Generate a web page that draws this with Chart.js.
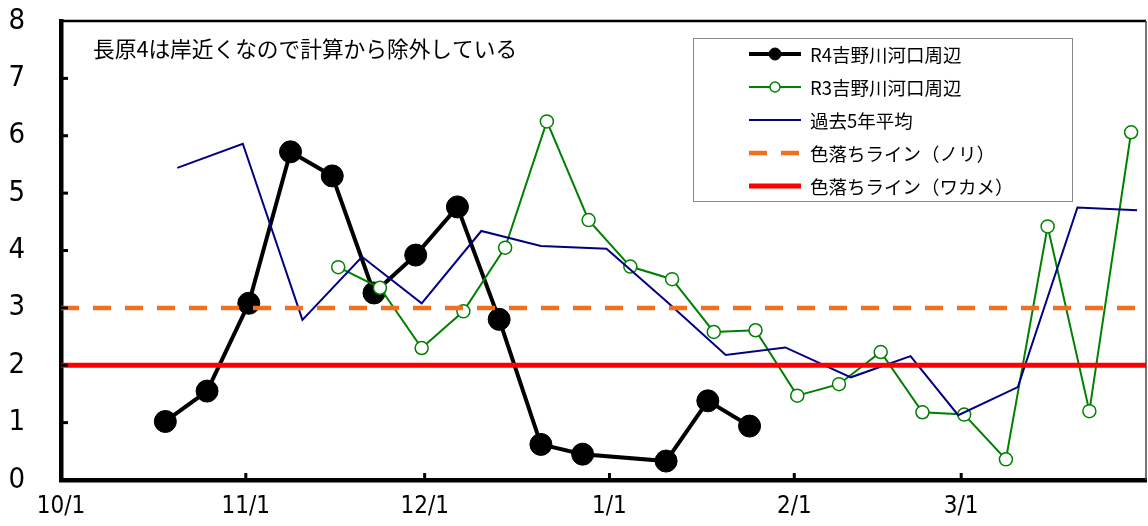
<!DOCTYPE html>
<html>
<head>
<meta charset="utf-8">
<script src="https://cdn.jsdelivr.net/npm/chart.js@4.4.0/dist/chart.umd.min.js"></script>
<style>
  html, body { margin: 0; padding: 0; background: #fff; overflow: hidden; }
  #wrap { width: 1148px; height: 526px; }
  canvas { display: block; }
</style>
</head>
<body>
<div id="wrap"><canvas id="chart" width="1148" height="526"></canvas></div>
<script>
// x axis: days counted from 10/1, month ticks
const monthLabels = ['10/1', '11/1', '12/1', '1/1', '2/1', '3/1'];
const xMin = 0;
const xMax = 182;

const r4Dates = ['10/18', '10/25', '11/1', '11/8', '11/15', '11/22', '11/29', '12/6', '12/13', '12/20', '12/27', '1/10', '1/17', '1/24'];
const r4Values = [1.02, 1.55, 3.08, 5.72, 5.30, 3.26, 3.92, 4.76, 2.80, 0.62, 0.45, 0.33, 1.38, 0.94];

const r3Dates = ['11/16', '11/23', '11/30', '12/7', '12/14', '12/21', '12/28', '1/4', '1/11', '1/18', '1/25', '2/1', '2/8', '2/15', '2/22', '3/1', '3/8', '3/15', '3/22', '3/29'];
const r3Values = [3.71, 3.35, 2.30, 2.94, 4.05, 6.25, 4.53, 3.72, 3.50, 2.58, 2.61, 1.47, 1.67, 2.23, 1.18, 1.14, 0.36, 4.42, 1.20, 6.06];

const avgDates = ['10/20', '10/31', '11/10', '11/20', '11/30', '12/10', '12/20', '12/31', '1/10', '1/20', '1/30', '2/10', '2/20', '2/28', '3/10', '3/20', '3/30'];
const avgValues = [5.44, 5.86, 2.79, 3.89, 3.08, 4.34, 4.08, 4.03, 3.12, 2.18, 2.31, 1.79, 2.16, 1.13, 1.62, 4.75, 4.70];

const noriLine = [3, 3];
const wakameLine = [2, 2];

const note = '長原4は岸近くなので計算から除外している';

const numFont = "'DejaVu Sans Condensed', 'DejaVu Sans', sans-serif";
const jpFont = "'Noto Sans CJK JP', sans-serif";

function dayOf(s) {
    let [m, d] = s.split('/').map(Number);
    let year = m >= 10 ? 2022 : 2023;
    return (Date.UTC(year, m - 1, d) - Date.UTC(2022, 9, 1)) / 86400000;
}

// points sit in the middle of their day slot
function toPoints(dates, values) {
    return dates.map((d, i) => ({x: dayOf(d) + 0.5, y: values[i]}));
}

const monthDays = monthLabels.map(dayOf);

function noPadding(scale) {
    scale.paddingTop = 0;
    scale.paddingBottom = 0;
    scale.paddingLeft = 0;
    scale.paddingRight = 0;
}

const frame = {
    id: 'frame',
    afterDraw(chart) {
        const {ctx, chartArea: a, scales} = chart;
        ctx.save();
        // top and right border
        ctx.strokeStyle = '#000';
        ctx.lineWidth = 2.5;
        ctx.beginPath();
        ctx.moveTo(a.left, a.top);
        ctx.lineTo(a.right, a.top);
        ctx.stroke();
        ctx.strokeStyle = '#444';
        ctx.lineWidth = 1.5;
        ctx.beginPath();
        ctx.moveTo(a.right, a.top);
        ctx.lineTo(a.right, a.bottom);
        ctx.stroke();
        // inner tick marks
        ctx.strokeStyle = '#000';
        ctx.lineWidth = 3;
        for (let v = 1; v < 8; v++) {
            let y = scales.y.getPixelForValue(v);
            ctx.beginPath();
            ctx.moveTo(a.left, y);
            ctx.lineTo(a.left + 7, y);
            ctx.stroke();
        }
        monthDays.slice(1).forEach(d => {
            let x = scales.x.getPixelForValue(d);
            ctx.beginPath();
            ctx.moveTo(x, a.bottom);
            ctx.lineTo(x, a.bottom - 7);
            ctx.stroke();
        });

        // note
        ctx.fillStyle = '#000';
        ctx.font = '21.7px ' + jpFont;
        ctx.textBaseline = 'middle';
        ctx.fillText(note, 93, 49);

        // legend
        const bx = 693, by = 38, bw = 379, bh = 163;
        ctx.fillStyle = '#fff';
        ctx.fillRect(bx, by, bw, bh);
        ctx.strokeStyle = '#888';
        ctx.lineWidth = 1;
        ctx.strokeRect(bx + 0.5, by + 0.5, bw, bh);
        ctx.save();
        ctx.beginPath();
        ctx.rect(bx, by, bw, bh);
        ctx.clip();
        chart.data.datasets.forEach((ds, i) => {
            let y = 54 + i * 33;
            ctx.strokeStyle = ds.borderColor;
            ctx.lineWidth = ds.borderWidth;
            ctx.setLineDash(ds.borderDash || []);
            ctx.beginPath();
            ctx.moveTo(749, y);
            ctx.lineTo(801, y);
            ctx.stroke();
            ctx.setLineDash([]);
            if (ds.pointRadius > 0) {
                ctx.beginPath();
                ctx.arc(775, y, ds.legendRadius, 0, Math.PI * 2);
                ctx.fillStyle = ds.pointBackgroundColor;
                ctx.fill();
                ctx.lineWidth = ds.pointBorderWidth;
                ctx.strokeStyle = ds.pointBorderColor;
                ctx.stroke();
            }
            ctx.fillStyle = '#000';
            ctx.font = '18.5px ' + jpFont;
            ctx.fillText(ds.label, 810, y + 1);
        });
        ctx.restore();
        ctx.restore();
    }
};

const config = {
    type: 'line',
    data: {
        datasets: [
            {
                label: 'R4吉野川河口周辺',
                data: toPoints(r4Dates, r4Values),
                borderColor: '#000',
                borderWidth: 4,
                pointRadius: 11,
                pointBackgroundColor: '#000',
                pointBorderColor: '#000',
                pointBorderWidth: 1,
                legendRadius: 6,
                order: 4
            },
            {
                label: 'R3吉野川河口周辺',
                data: toPoints(r3Dates, r3Values),
                borderColor: '#008000',
                borderWidth: 2,
                pointRadius: 6.5,
                pointBackgroundColor: '#fff',
                pointBorderColor: '#008000',
                pointBorderWidth: 1.5,
                legendRadius: 5,
                order: 3
            },
            {
                label: '過去5年平均',
                data: toPoints(avgDates, avgValues),
                borderColor: '#000080',
                borderWidth: 2,
                pointRadius: 0,
                order: 2
            },
            {
                label: '色落ちライン（ノリ）',
                data: [{x: xMin, y: noriLine[0]}, {x: xMax, y: noriLine[1]}],
                borderColor: '#F07020',
                borderWidth: 4.5,
                borderDash: [18, 14],
                pointRadius: 0,
                order: 1
            },
            {
                label: '色落ちライン（ワカメ）',
                data: [{x: xMin, y: wakameLine[0]}, {x: xMax, y: wakameLine[1]}],
                borderColor: '#FF0000',
                borderWidth: 5,
                pointRadius: 0,
                order: 0
            }
        ]
    },
    options: {
        responsive: false,
        animation: false,
        layout: {autoPadding: false, padding: {top: 21, right: 2, left: 0, bottom: 0}},
        plugins: {legend: {display: false}, tooltip: {enabled: false}},
        elements: {line: {tension: 0}},
        scales: {
            x: {
                type: 'linear',
                min: xMin,
                max: xMax,
                afterBuildTicks: scale => { scale.ticks = monthDays.map(v => ({value: v})); },
                afterFit: scale => { scale.height = 46; noPadding(scale); },
                ticks: {
                    autoSkip: false,
                    maxRotation: 0,
                    padding: 4,
                    color: '#000',
                    font: {family: numFont, size: 24},
                    callback: v => monthLabels[monthDays.indexOf(v)]
                },
                grid: {display: false},
                border: {color: '#000', width: 4.5}
            },
            y: {
                min: 0,
                max: 8,
                afterFit: scale => { scale.width = 61; noPadding(scale); },
                ticks: {
                    stepSize: 1,
                    padding: 28,
                    color: '#000',
                    font: {family: numFont, size: 29}
                },
                grid: {display: false},
                border: {color: '#000', width: 4.5}
            }
        }
    },
    plugins: [frame]
};

const ctx = document.getElementById('chart').getContext('2d');
new Chart(ctx, config);
</script>
</body>
</html>
